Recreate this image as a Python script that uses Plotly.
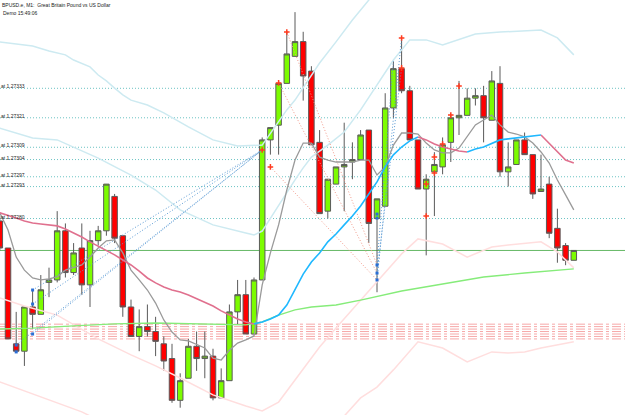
import plotly.graph_objects as go

# ---------------- data ----------------
candle_idx = list(range(1, 72))
open_ = [1.27279, 1.27268, 1.27229, 1.27226, 1.27244, 1.27241, 1.27254, 1.27255, 1.27275, 1.27258,
         1.27268, 1.27253, 1.27271, 1.27275, 1.27289, 1.27273, 1.27244, 1.27232, 1.27236, 1.27234,
         1.27229, 1.27223, 1.27206, 1.27215, 1.27228, 1.27223, 1.27224, 1.27207, 1.27214, 1.27242,
         1.27249, 1.27233, 1.27255, 1.27312, 1.27318, 1.27335, 1.27346, 1.27352, 1.27340, 1.27311,
         1.27283, 1.27294, 1.27301, 1.27303, 1.27304, 1.27316, 1.27280, 1.27285, 1.27325, 1.27341,
         1.27332, 1.27312, 1.27292, 1.27299, 1.27301, 1.27311, 1.27321, 1.27322, 1.27329, 1.27330,
         1.27320, 1.27335, 1.27299, 1.27302, 1.27312, 1.27306, 1.27291, 1.27294, 1.27276, 1.27269,
         1.27263]
high = [1.27281, 1.27268, 1.27242, 1.27244, 1.27251, 1.27257, 1.27260, 1.27283, 1.27278, 1.27270,
        1.27278, 1.27275, 1.27277, 1.27294, 1.27290, 1.27273, 1.27247, 1.27243, 1.27245, 1.27240,
        1.27232, 1.27229, 1.27217, 1.27231, 1.27234, 1.27234, 1.27227, 1.27219, 1.27245, 1.27255,
        1.27255, 1.27256, 1.27313, 1.27317, 1.27336, 1.27356, 1.27364, 1.27356, 1.27342, 1.27316,
        1.27296, 1.27301, 1.27319, 1.27311, 1.27316, 1.27316, 1.27288, 1.27331, 1.27344, 1.27353,
        1.27334, 1.27312, 1.27298, 1.27307, 1.27313, 1.27322, 1.27336, 1.27333, 1.27333, 1.27334,
        1.27340, 1.27342, 1.27311, 1.27312, 1.27315, 1.27306, 1.27306, 1.27297, 1.27284, 1.27270,
        1.27267]
low = [1.27267, 1.27231, 1.27226, 1.27220, 1.27235, 1.27241, 1.27248, 1.27254, 1.27256, 1.27257,
       1.27249, 1.27244, 1.27269, 1.27273, 1.27270, 1.27240, 1.27232, 1.27226, 1.27232, 1.27224,
       1.27218, 1.27205, 1.27203, 1.27215, 1.27218, 1.27215, 1.27206, 1.27207, 1.27214, 1.27237,
       1.27233, 1.27233, 1.27255, 1.27306, 1.27306, 1.27335, 1.27346, 1.27328, 1.27310, 1.27282,
       1.27280, 1.27294, 1.27283, 1.27296, 1.27304, 1.27270, 1.27250, 1.27285, 1.27321, 1.27331,
       1.27312, 1.27292, 1.27265, 1.27281, 1.27298, 1.27303, 1.27314, 1.27322, 1.27326, 1.27311,
       1.27320, 1.27297, 1.27293, 1.27302, 1.27306, 1.27288, 1.27291, 1.27272, 1.27262, 1.27261,
       1.27263]
close = [1.27268, 1.27231, 1.27226, 1.27244, 1.27241, 1.27251, 1.27255, 1.27275, 1.27258, 1.27266,
         1.27253, 1.27271, 1.27275, 1.27294, 1.27272, 1.27244, 1.27232, 1.27236, 1.27234, 1.27230,
         1.27222, 1.27206, 1.27214, 1.27228, 1.27223, 1.27224, 1.27207, 1.27214, 1.27242, 1.27249,
         1.27233, 1.27255, 1.27312, 1.27317, 1.27335, 1.27347, 1.27352, 1.27338, 1.27310, 1.27282,
         1.27296, 1.27301, 1.27302, 1.27304, 1.27314, 1.27278, 1.27288, 1.27325, 1.27341, 1.27332,
         1.27312, 1.27292, 1.27296, 1.27302, 1.27310, 1.27321, 1.27322, 1.27329, 1.27330, 1.27321,
         1.27336, 1.27299, 1.27301, 1.27312, 1.27306, 1.27290, 1.27292, 1.27274, 1.27268, 1.27263,
         1.27267]

# fast moving average (grey), one value per candle
ma_fast = [1.272823, 1.272753, 1.272643, 1.272590, 1.272558, 1.272550, 1.272554, 1.272562, 1.272590, 1.272599,
           1.272611, 1.272643, 1.272680, 1.272709, 1.272713, 1.272660, 1.272590, 1.272550, 1.272509, 1.272456,
           1.272387, 1.272338, 1.272306, 1.272302, 1.272289, 1.272273, 1.272232, 1.272224, 1.272264, 1.272293,
           1.272306, 1.272322, 1.272530, 1.272660, 1.272774, 1.272916, 1.273038, 1.273107, 1.273107, 1.273050,
           1.273038, 1.273030, 1.273030, 1.273030, 1.273038, 1.273038, 1.272977, 1.273010, 1.273099, 1.273148,
           1.273148, 1.273144, 1.273107, 1.273079, 1.273067, 1.273067, 1.273087, 1.273132, 1.273181, 1.273201,
           1.273221, 1.273181, 1.273152, 1.273144, 1.273132, 1.273107, 1.273071, 1.273026, 1.272957, 1.272896,
           1.272835]
# medium moving average, coloured by direction (blue up / pink down)
ma_mid = [1.272823, 1.272814, 1.272802, 1.272790, 1.272782, 1.272778, 1.272774, 1.272770, 1.272757, 1.272741,
          1.272725, 1.272705, 1.272688, 1.272672, 1.272652, 1.272631, 1.272611, 1.272586, 1.272558, 1.272538,
          1.272521, 1.272509, 1.272501, 1.272489, 1.272473, 1.272460, 1.272444, 1.272424, 1.272407, 1.272391,
          1.272379, 1.272371, 1.272379, 1.272391, 1.272407, 1.272448, 1.272509, 1.272574, 1.272623, 1.272660,
          1.272705, 1.272737, 1.272774, 1.272810, 1.272851, 1.272900, 1.272949, 1.273010, 1.273059, 1.273091,
          1.273116, 1.273132, 1.273120, 1.273103, 1.273091, 1.273083, 1.273075, 1.273071, 1.273083, 1.273091,
          1.273107, 1.273120, 1.273124, 1.273128, 1.273132, 1.273136, 1.273140, 1.273107, 1.273071, 1.273038,
          1.273026]
# slow moving average (light green)
ma_slow_idx = [1, 5, 10, 15, 20, 25, 29, 31, 33, 35, 37, 39, 42, 45, 50, 55, 60, 65, 71]
ma_slow = [1.272350, 1.272354, 1.272363, 1.272371, 1.272375, 1.272371, 1.272367, 1.272367, 1.272379, 1.272407,
           1.272428, 1.272440, 1.272448, 1.272468, 1.272505, 1.272534, 1.272562, 1.272578, 1.272595]

# envelope / band lines
band_c1_idx = [1, 5, 7, 9, 10, 12, 13, 14, 15, 16, 17, 19, 21, 24, 27, 30, 33, 34, 35, 36, 37, 38, 39, 40, 42, 44, 46, 47]
band_c1 = [1.273519, 1.273502, 1.273482, 1.273466, 1.273445, 1.273417, 1.273384, 1.273360, 1.273331, 1.273303,
           1.273282, 1.273262, 1.273230, 1.273173, 1.273120, 1.273095, 1.273099, 1.273148, 1.273193, 1.273242,
           1.273282, 1.273331, 1.273384, 1.273433, 1.273519, 1.273608, 1.273689, 1.273738]
band_c2_idx = [1, 5, 8, 13, 17, 20, 23, 27, 31, 32, 33, 34, 35, 36, 37, 38, 39, 41, 43, 45, 47, 49, 51, 53, 55,
               57, 59, 62, 67, 69, 71]
band_c2 = [1.273168, 1.273128, 1.273120, 1.273046, 1.272977, 1.272916, 1.272835, 1.272774, 1.272741, 1.272733,
           1.272749, 1.272802, 1.272855, 1.272904, 1.272957, 1.273006, 1.273050, 1.273099, 1.273152, 1.273242,
           1.273344, 1.273445, 1.273527, 1.273527, 1.273506, 1.273527, 1.273551, 1.273559, 1.273567, 1.273535,
           1.273466]
band_p1_idx = [1, 4, 8, 13, 17, 20, 23, 27, 31, 33, 35, 37, 39, 40, 42, 45, 48, 50, 52, 55, 58, 61, 63, 67, 69, 71]
band_p1 = [1.272477, 1.272444, 1.272407, 1.272310, 1.272245, 1.272200, 1.272151, 1.272082, 1.272037, 1.272017,
           1.272053, 1.272143, 1.272236, 1.272277, 1.272354, 1.272468, 1.272578, 1.272656, 1.272717, 1.272696,
           1.272643, 1.272684, 1.272692, 1.272705, 1.272664, 1.272599]
band_p2_idx = [41, 43, 45, 47, 49, 52, 55, 58, 61, 63, 65, 67, 71]
band_p2 = [1.271939, 1.271996, 1.272070, 1.272114, 1.272184, 1.272298, 1.272273, 1.272216, 1.272257, 1.272253,
           1.272257, 1.272273, 1.272298]
band_p3_idx = [1, 6, 11, 13]
band_p3 = [1.272135, 1.272074, 1.272013, 1.271980]

# horizontal levels
order_levels = [1.27333, 1.27321, 1.27309, 1.27304, 1.27297, 1.27293, 1.27280]
order_labels = ["at 1.27333", "at 1.27321", "at 1.27309", "at 1.27304", "at 1.27297", "at 1.27293", "at 1.27280"]
green_level = 1.27267
red_levels = [1.27237, 1.27236, 1.27235, 1.27234, 1.27233, 1.27232, 1.27231]

# signal markers
red_mark_idx = [36, 35, 34, 33, 50, 50, 53, 53, 54, 54, 55, 56, 57]
red_mark_px = [1.273559, 1.273352, 1.273010, 1.273079, 1.273535, 1.273413, 1.272810, 1.272941, 1.273050,
               1.272985, 1.273103, 1.273221, 1.273339]
blue_mark_idx = [5, 5, 5, 3, 3, 47, 47, 47, 47, 47]
blue_mark_px = [1.272509, 1.272452, 1.272330, 1.272285, 1.272257, 1.272818, 1.272802, 1.272611, 1.272578, 1.272550]

# dotted connector lines: (start idx, start price, end idx, end price)
blue_links = [(5, 1.272509, 33, 1.273079), (5, 1.272452, 33, 1.273079), (5, 1.272330, 33, 1.273079),
              (3, 1.272285, 33, 1.273079), (47, 1.272611, 49, 1.273441), (47, 1.272578, 50, 1.273413),
              (47, 1.272550, 50, 1.273535)]
red_links = [(36, 1.273559, 47, 1.272611), (35, 1.273352, 47, 1.272578), (34, 1.273010, 47, 1.272550)]

title_text = "BPUSD.e, M1:  Great Britain Pound vs US Dollar"
sub_text = "Demo 15:49:06"

# ---------------- figure ----------------
fig = go.Figure()


def add_line(x, y, color, width=1.2, dash="solid"):
    fig.add_trace(go.Scatter(x=x, y=y, mode="lines", line=dict(color=color, width=width, dash=dash),
                             hoverinfo="skip", showlegend=False))


# bands (under candles)
add_line(band_c1_idx, band_c1, "#cdeaf1", 1.5)
add_line(band_c2_idx, band_c2, "#cdeaf1", 1.5)
add_line(band_p1_idx, band_p1, "#ffdede", 1.5)
add_line(band_p2_idx, band_p2, "#ffdede", 1.5)
add_line(band_p3_idx, band_p3, "#ffdede", 1.5)
add_line(ma_slow_idx, ma_slow, "#86ec7a", 1.4)

# dotted links
for a, pa, b, pb in blue_links:
    add_line([a, b], [pa, pb], "#5b9bd5", 1, "1px,2px")
for a, pa, b, pb in red_links:
    add_line([a, b], [pa, pb], "#f29a8a", 1, "1px,2px")

# candles
fig.add_trace(go.Candlestick(
    x=candle_idx, open=open_, high=high, low=low, close=close,
    increasing=dict(fillcolor="#7cfc00", line=dict(color="#5a5a5a", width=1)),
    decreasing=dict(fillcolor="#ff0000", line=dict(color="#5a5a5a", width=1)),
    whiskerwidth=0, hoverinfo="skip", showlegend=False))

# fast MA
add_line(candle_idx, ma_fast, "#9a9a9a", 1.3)

# direction-coloured MA
runs = []
start = 0
cur = None
for k in range(1, len(ma_mid)):
    up = ma_mid[k] >= ma_mid[k - 1]
    if cur is None:
        cur = up
    elif up != cur:
        runs.append((start, k - 1, cur))
        start = k - 1
        cur = up
runs.append((start, len(ma_mid) - 1, cur))
for s, e, up in runs:
    add_line(candle_idx[s:e + 1], ma_mid[s:e + 1], "#1fb8ff" if up else "#e0708e", 1.6)

# markers
fig.add_trace(go.Scatter(x=red_mark_idx, y=red_mark_px, mode="markers",
                         marker=dict(symbol="cross-thin", size=4, line=dict(color="#ff3b1f", width=1.5)),
                         hoverinfo="skip", showlegend=False))
fig.add_trace(go.Scatter(x=blue_mark_idx, y=blue_mark_px, mode="markers",
                         marker=dict(symbol="square", size=3, color="#2a6fd6"),
                         hoverinfo="skip", showlegend=False))

# horizontal levels
for lv in order_levels:
    fig.add_hline(y=lv, line=dict(color="#6cc4c4", width=1, dash="1px,2px"), layer="below")
for lv in red_levels:
    fig.add_hline(y=lv, line=dict(color="#f6a8a8", width=1, dash="dashdot"), layer="below")
fig.add_hline(y=green_level, line=dict(color="#66b866", width=1), layer="below")

annotations = []
for lv, lab in zip(order_levels, order_labels):
    annotations.append(dict(x=0, xref="paper", y=lv, yref="y", text=lab, showarrow=False,
                            xanchor="left", yanchor="middle", xshift=-1, yshift=2,
                            font=dict(family="Liberation Sans", size=5, color="#222222")))
annotations.append(dict(x=0, xref="paper", y=1, yref="paper", text=title_text, showarrow=False,
                        xanchor="left", yanchor="top", xshift=0, yshift=0,
                        font=dict(family="Liberation Sans", size=5, color="#222222")))
annotations.append(dict(x=0, xref="paper", y=1, yref="paper", text=sub_text, showarrow=False,
                        xanchor="left", yanchor="top", xshift=1, yshift=-8,
                        font=dict(family="Liberation Sans", size=5, color="#222222")))

fig.update_layout(
    width=625, height=415,
    margin=dict(l=0, r=0, t=0, b=0),
    paper_bgcolor="white", plot_bgcolor="white",
    boxgap=0.33, boxgroupgap=0,
    showlegend=False,
    annotations=annotations,
    xaxis=dict(range=[1.0244, 77.244], visible=False, showgrid=False, zeroline=False,
               rangeslider=dict(visible=False)),
    yaxis=dict(range=[1.2720003, 1.2736894], visible=False, showgrid=False, zeroline=False),
)

fig.write_html("out.html")
